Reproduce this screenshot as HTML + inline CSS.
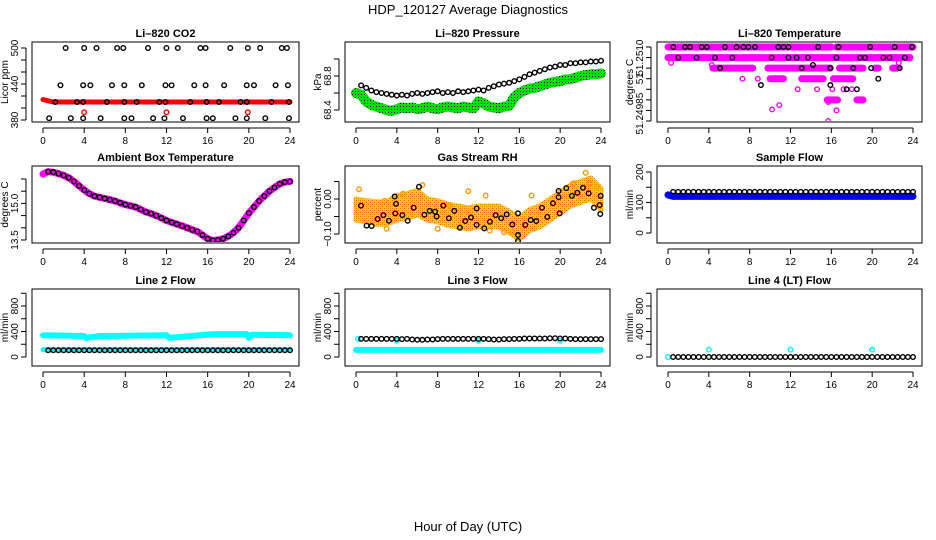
<!DOCTYPE html>
<html><head><meta charset="utf-8">
<style>
html,body{margin:0;padding:0;background:#fff;}
svg{display:block;font-family:"Liberation Sans",Arial,sans-serif;}
</style></head>
<body>
<svg id="chart" width="936" height="540" viewBox="0 0 936 540" xmlns="http://www.w3.org/2000/svg">
<defs>
<pattern id="greenDots" width="3" height="3" patternUnits="userSpaceOnUse"><rect width="3" height="3" fill="#00e000"/><rect x="1" y="1" width="1" height="1" fill="#000"/></pattern>
<pattern id="orangeDots" width="4" height="4" patternUnits="userSpaceOnUse"><rect width="4" height="4" fill="#ffcc00"/><rect x="0" y="0" width="1" height="1" fill="#ff6000"/><rect x="2" y="2" width="1" height="1" fill="#ff6000"/><rect x="2" y="0" width="1" height="1" fill="#ffa000"/><rect x="0" y="2" width="1" height="1" fill="#ffa000"/></pattern>
</defs>
<text x="468" y="14" text-anchor="middle" font-size="13">HDP_120127  Average Diagnostics</text>
<text x="468" y="531" text-anchor="middle" font-size="13">Hour of Day (UTC)</text>
<g id="plots"></g>
</svg>
<script>
// ---------- DATA ----------
const xTicks = [0,4,8,12,16,20,24];
const halfHours = [0,0.5,1,1.5,2,2.5,3,3.5,4,4.5,5,5.5,6,6.5,7,7.5,8,8.5,9,9.5,10,10.5,11,11.5,12,12.5,13,13.5,14,14.5,15,15.5,16,16.5,17,17.5,18,18.5,19,19.5,20,20.5,21,21.5,22,22.5,23,23.5,24];

// CO2
const co2RedHours = [0,0.5,1,24];
const co2RedVals = [414,412,410,410];
const co2RedPtHours = [4.0,12.0,19.9];
const co2RedPtVals = [393,393,393];
const co2Hours500 = [2.2,4.0,5.2,7.2,7.8,10.2,12.0,13.1,15.3,15.8,18.2,19.9,21.1,23.2,23.7];
const co2Hours440 = [1.7,3.9,4.6,6.7,7.9,9.6,11.9,12.5,14.7,15.8,17.6,19.8,20.5,22.6,23.8];
const co2Hours410 = [1.2,3.3,3.9,6.2,7.9,9.1,11.3,11.9,14.3,15.9,17.1,19.2,19.8,22.2,23.9];
const co2Hours383 = [0.6,2.7,3.9,5.6,7.9,8.6,10.7,11.8,13.6,15.9,16.5,18.7,19.8,21.6,23.9];

// Pressure
const pressBlack = [68.66,68.69,68.66,68.63,68.61,68.6,68.59,68.58,68.57,68.58,68.57,68.59,68.6,68.59,68.6,68.61,68.62,68.6,68.61,68.6,68.62,68.61,68.62,68.63,68.64,68.63,68.66,68.68,68.7,68.71,68.72,68.74,68.76,68.79,68.82,68.84,68.86,68.88,68.9,68.91,68.93,68.93,68.95,68.95,68.96,68.96,68.97,68.97,68.98];
const pressGreen = [68.6,68.58,68.5,68.46,68.44,68.42,68.4,68.39,68.41,68.43,68.42,68.43,68.41,68.42,68.44,68.42,68.41,68.43,68.44,68.43,68.42,68.44,68.43,68.42,68.5,68.48,68.44,68.43,68.42,68.44,68.45,68.55,68.6,68.63,68.65,68.66,68.68,68.7,68.72,68.73,68.74,68.76,68.76,68.78,68.8,68.81,68.82,68.82,68.83];

// Li-820 temperature (discrete levels, 0 = top level)
const tempSegStart = [0,16.5,0,4.4,9.8,16.8,20.3,22,10,13.1,16.2,15.6,18.5];
const tempSegEnd   = [16.0,24,23.7,8.3,15.9,19.1,20.6,22.5,11.3,15.2,18.1,16.6,19.1];
const tempSegLevel = [0,0,1,2,2,2,2,2,3,3,3,5,5];
const tempPtHours = [7.3,8.8,12.7,14.6,16.1,17.2,18,10.2,10.9,15.7,16.5,15.7,0.3,4.3,22.6];
const tempPtLevels = [3,3,4,4,4,4,4,5.9,5.5,5.2,6,7,1.5,1.7,1.5];
const tempBlackHours = [0.52,1.66,2.15,3.3,3.8,5.58,6.72,7.38,7.87,8.52,10.8,11.3,11.8,14.7,16.7,19.8,22.2,23.9,1.0,2.8,4.6,6.3,10.15,11.8,12.6,13.7,16.5,18.8,19.3,21.1,21.7,23.2,5.1,13.1,15.9,18.15,19.9,22.7,14.2,9.1,15.9,17.5,18.5,20.6];
const tempBlackLevels = [0,0,0,0,0,0,0,0,0,0,0,0,0,0,0,0,0,0,1,1,1,1,1,1,1,1,1,1,1,1,1,1,2,2,2,2,2,2,1.7,3.6,3.6,4,4,3];

// Ambient box temperature
const ambientVals = [16.2,16.3,16.28,16.22,16.15,16.05,15.9,15.72,15.55,15.4,15.3,15.25,15.2,15.15,15.1,15.02,14.95,14.9,14.85,14.75,14.65,14.58,14.5,14.4,14.3,14.22,14.15,14.08,14.0,13.92,13.85,13.7,13.55,13.48,13.5,13.55,13.65,13.8,14.0,14.3,14.6,14.85,15.1,15.3,15.5,15.65,15.8,15.87,15.9];

// Gas stream RH
const rhBandHours = [0,1,2,3,4,5,6,7,8,9,10,11,12,13,14,15,16,17,18,19,20,21,22,23,24];
const rhBandCenter = [-0.03,-0.035,-0.04,-0.04,-0.025,-0.02,-0.01,-0.03,-0.035,-0.045,-0.05,-0.055,-0.05,-0.05,-0.05,-0.065,-0.085,-0.06,-0.05,-0.03,-0.01,0.01,0.02,0.03,0.0];
const rhBandHalf = [0.03,0.03,0.032,0.032,0.035,0.035,0.035,0.03,0.03,0.03,0.03,0.03,0.03,0.03,0.03,0.03,0.03,0.03,0.03,0.03,0.03,0.03,0.03,0.03,0.03];
const rhOrangeHours = [0.3,2.8,4.6,6.5,9.2,11.0,12.7,14.5,15.3,17.2,21.3,22.5,22.9,23.6,3.0,8.0,13.1];
const rhOrangeVals = [0.028,-0.005,0.015,0.04,-0.02,0.022,0.01,-0.095,-0.095,0.01,0.045,0.075,0.045,0.035,-0.085,-0.085,-0.09];
const rhBlackHours = [0.49,1.04,1.53,2.12,2.68,3.23,3.79,3.92,3.85,4.54,5.06,5.65,6.17,6.7,7.22,7.74,7.9,8.55,9.1,9.63,10.18,10.7,11.26,11.82,11.82,12.57,13.12,13.68,14.23,14.76,15.31,15.87,15.87,15.87,16.58,17.11,17.66,18.22,18.74,19.29,19.85,19.85,19.95,20.6,21.15,21.68,22.23,22.79,23.31,23.87,23.97,23.93];
const rhBlackVals = [-0.019,-0.076,-0.077,-0.057,-0.046,-0.062,0.007,-0.014,-0.041,-0.046,-0.062,-0.025,0.035,-0.045,-0.034,-0.036,-0.05,-0.019,-0.055,-0.034,-0.082,-0.063,-0.053,-0.027,-0.074,-0.084,-0.065,-0.046,-0.055,-0.044,-0.073,-0.041,-0.103,-0.12,-0.074,-0.06,-0.063,-0.025,-0.051,-0.012,0.023,0.005,-0.041,0.031,0.009,0.018,0.032,0.016,-0.025,-0.017,0.009,-0.043];

// Sample flow
const sampleBlueHours = [0,0.5,24];
const sampleBlueVals = [125,120,120];
const sampleBlack = [135,135,135,135,135,135,135,135,135,135,135,135,135,135,135,135,135,135,135,135,135,135,135,135,135,135,135,135,135,135,135,135,135,135,135,135,135,135,135,135,135,135,135,135,135,135,135,135];

// Line 2 flow
const line2CyanHours = [0,4,4.2,5.5,12,12.3,16.5,19.8,20,20.3,24];
const line2CyanVals = [340,330,300,330,340,300,360,360,300,350,340];
const line2LowCyanHours = [0,24];
const line2LowCyanVals = [115,115];
const line2Black = [105,105,105,105,105,105,105,105,105,105,105,105,105,105,105,105,105,105,105,105,105,105,105,105,105,105,105,105,105,105,105,105,105,105,105,105,105,105,105,105,105,105,105,105,105,105,105,105];

// Line 3 flow
const line3CyanHours = [0,24];
const line3CyanVals = [112,112];
const line3Black = [285,285,285,285,285,285,285,285,280,285,275,270,270,275,275,280,285,285,285,285,285,285,285,285,285,280,275,275,280,280,285,285,290,290,290,290,290,295,295,290,290,285,280,280,280,280,280,280];
const line3CyanPtHours = [0.2,4,12,20];
const line3CyanPtVals = [285,255,255,255];

// Line 4 flow
const line4CyanPtHours = [0,4,12,20];
const line4CyanPtVals = [0,115,115,115];
const line4Black = [0,0,0,0,0,0,0,0,0,0,0,0,0,0,0,0,0,0,0,0,0,0,0,0,0,0,0,0,0,0,0,0,0,0,0,0,0,0,0,0,0,0,0,0,0,0,0,0];

// ---------- LAYOUT ----------
const NS = "http://www.w3.org/2000/svg";
const root = document.getElementById('plots');
const colX0 = [43,356,668], colX24 = [290,601,913];
const rowTop = [42,166,289], rowBot = [122,243,366];

function mk(tag, attrs, parent){
  const e = document.createElementNS(NS, tag);
  for (const k in attrs) e.setAttribute(k, attrs[k]);
  (parent||root).appendChild(e);
  return e;
}

function makePanel(name, title, col, row, ref, ticks, labels, ylab){
  const g = mk('g', {});
  
  
  const x0 = colX0[col], x24 = colX24[col];
  const L = x0 - 11, R = x24 + 9, T = rowTop[row], B = rowBot[row];
  const xs = h => x0 + h * (x24 - x0) / 24;
  const ys = v => ref[1] + (v - ref[0]) * (ref[3] - ref[1]) / (ref[2] - ref[0]);
  const t = mk('text', {x:(L+R)/2, y:T-5, 'text-anchor':'middle', 'font-size':11, 'font-weight':'bold'}, g);
  t.textContent = title;
  
  
  const box = mk('rect', {x:L, y:T, width:R-L, height:B-T, fill:'none', stroke:'#000', 'stroke-width':1}, g);
  
  
  const xa = mk('g', {}, g);
  
  
  mk('line', {x1:xs(0), x2:xs(24), y1:B+6, y2:B+6, stroke:'#000'}, xa);
  xTicks.forEach(v => {
    mk('line', {x1:xs(v), x2:xs(v), y1:B+6, y2:B+11, stroke:'#000'}, xa);
    const tl = mk('text', {x:xs(v), y:B+22, 'text-anchor':'middle', 'font-size':10}, xa);
    tl.textContent = v;
    
    
  });
  const ya = mk('g', {}, g);
  
  
  mk('line', {x1:L-6, x2:L-6, y1:ys(ticks[0]), y2:ys(ticks[ticks.length-1]), stroke:'#000'}, ya);
  ticks.forEach(v => mk('line', {x1:L-11, x2:L-6, y1:ys(v), y2:ys(v), stroke:'#000'}, ya));
  labels.forEach(lb => {
    const yy = ys(lb[0]);
    const tl = mk('text', {x:0, y:0, 'text-anchor':'middle', 'font-size':10, transform:`translate(${L-14},${yy}) rotate(-90)`}, ya);
    tl.textContent = lb[1];
    
    
  });
  const yl = mk('text', {x:0, y:0, 'text-anchor':'middle', 'font-size':10, transform:`translate(${L-24},${(T+B)/2}) rotate(-90)`}, g);
  yl.textContent = ylab;
  
  
  const clipId = 'clip-' + name;
  const cp = mk('clipPath', {id:clipId}, g);
  mk('rect', {x:L+1, y:T+1, width:R-L-2, height:B-T-2}, cp);
  const marks = mk('g', {'clip-path':`url(#${clipId})`}, g);
  
  
  return {g:marks, xs, ys};
}

function band(p, hours, vals, stroke, w, name){
  const pts = hours.map((h,i) => p.xs(h).toFixed(1) + ',' + p.ys(vals[i]).toFixed(1)).join(' ');
  const e = mk('polyline', {points:pts, fill:'none', stroke:stroke, 'stroke-width':w, 'stroke-linejoin':'round', 'stroke-linecap':'round'}, p.g);
  
  
}
function pts(p, hours, vals, color, name, r, sw){
  hours.forEach((h,i) => {
    const c = mk('circle', {cx:p.xs(h), cy:p.ys(vals[i]), r:r||2.3, fill:'none', stroke:color, 'stroke-width':sw||1.4}, p.g);
    
    
  });
}
const blackHours = halfHours.slice(1);

let p = makePanel('co2', 'Li\u2013820 CO2', 0, 0, [380,120,500,48], [380,400,420,440,460,480,500], [[380,'380'],[440,'440'],[500,'500']], 'Licor ppm');
band(p, co2RedHours, co2RedVals, '#ff0000', 5, 'co2-red-series');
pts(p, co2RedPtHours, co2RedPtVals, '#ff0000', 'co2-red-point');
pts(p, co2Hours500, co2Hours500.map(()=>500), '#000', 'co2-black-point');
pts(p, co2Hours440, co2Hours440.map(()=>438), '#000', 'co2-black-point');
pts(p, co2Hours410, co2Hours410.map(()=>410), '#000', 'co2-black-point');
pts(p, co2Hours383, co2Hours383.map(()=>383), '#000', 'co2-black-point');

p = makePanel('pressure', 'Li\u2013820 Pressure', 1, 0, [68.4,110,68.8,76], [68.4,68.6,68.8,69.0], [[68.4,'68.4'],[68.8,'68.8']], 'kPa');
band(p, halfHours, pressGreen, 'url(#greenDots)', 10, 'pressure-green-series');
pts(p, halfHours.slice(1), pressBlack.slice(1), '#000', 'pressure-black-point');

p = makePanel('li820-temp', 'Li\u2013820 Temperature', 2, 0, [0,47,7,121], [0,1,2,3,4,5,6,7], [[1,'51.2510'],[3,'51'],[6.3,'51.24985']], 'degrees C');
tempSegStart.forEach((s,i) => band(p, [s, tempSegEnd[i]], [tempSegLevel[i], tempSegLevel[i]], '#ff00ff', 7, 'temp-magenta-segment'));
pts(p, tempPtHours, tempPtLevels, '#ff00ff', 'temp-magenta-point');
pts(p, tempBlackHours, tempBlackLevels, '#000', 'temp-black-point');

p = makePanel('ambient', 'Ambient Box Temperature', 0, 1, [13.5,240,16.0,179], [13.5,14.0,14.5,15.0,15.5,16.0], [[13.5,'13.5'],[15.0,'15.0']], 'degrees C');
band(p, halfHours, ambientVals, '#ff00ff', 7, 'ambient-magenta-series');
pts(p, halfHours.slice(1), ambientVals.slice(1), '#000', 'ambient-black-point');

p = makePanel('rh', 'Gas Stream RH', 1, 1, [-0.1,234,0,199], [-0.1,-0.05,0,0.05], [[-0.1,'\u22120.10'],[0,'0.00']], 'percent');
{
  const up = rhBandHours.map((h,i) => p.xs(h).toFixed(1)+','+p.ys(rhBandCenter[i]+rhBandHalf[i]).toFixed(1));
  const dn = rhBandHours.map((h,i) => p.xs(h).toFixed(1)+','+p.ys(rhBandCenter[i]-rhBandHalf[i]).toFixed(1)).reverse();
  const poly = mk('polygon', {points: up.concat(dn).join(' '), fill:'url(#orangeDots)', stroke:'url(#orangeDots)', 'stroke-width':5, 'stroke-linejoin':'round'}, p.g);
  
  
}
pts(p, rhOrangeHours, rhOrangeVals, '#ff9900', 'rh-orange-point');
pts(p, rhBlackHours, rhBlackVals, '#000', 'rh-black-point');

p = makePanel('sample-flow', 'Sample Flow', 2, 1, [0,233,200,172], [0,50,100,150,200], [[0,'0'],[100,'100'],[200,'200']], 'ml/min');
band(p, sampleBlueHours, sampleBlueVals, '#0000ff', 7, 'sample-blue-series');
pts(p, blackHours, sampleBlack, '#000', 'sample-black-point');

const flowTicks = [0,200,400,600,800,1000], flowLabels = [[0,'0'],[400,'400'],[800,'800']];
p = makePanel('line2-flow', 'Line 2 Flow', 0, 2, [0,357,800,306], flowTicks, flowLabels, 'ml/min');
band(p, line2CyanHours, line2CyanVals, '#00ffff', 6, 'line2-cyan-series');
band(p, line2LowCyanHours, line2LowCyanVals, '#00ffff', 5, 'line2-cyan-low-series');
pts(p, blackHours, line2Black, '#000', 'line2-black-point');

p = makePanel('line3-flow', 'Line 3 Flow', 1, 2, [0,357,800,306], flowTicks, flowLabels, 'ml/min');
band(p, line3CyanHours, line3CyanVals, '#00ffff', 6, 'line3-cyan-series');
pts(p, line3CyanPtHours, line3CyanPtVals, '#00ffff', 'line3-cyan-point');
pts(p, blackHours, line3Black, '#000', 'line3-black-point');

p = makePanel('line4-flow', 'Line 4 (LT) Flow', 2, 2, [0,357,800,306], flowTicks, flowLabels, 'ml/min');
pts(p, line4CyanPtHours, line4CyanPtVals, '#00ffff', 'line4-cyan-point');
pts(p, blackHours, line4Black, '#000', 'line4-black-point');
</script>
</body></html>
